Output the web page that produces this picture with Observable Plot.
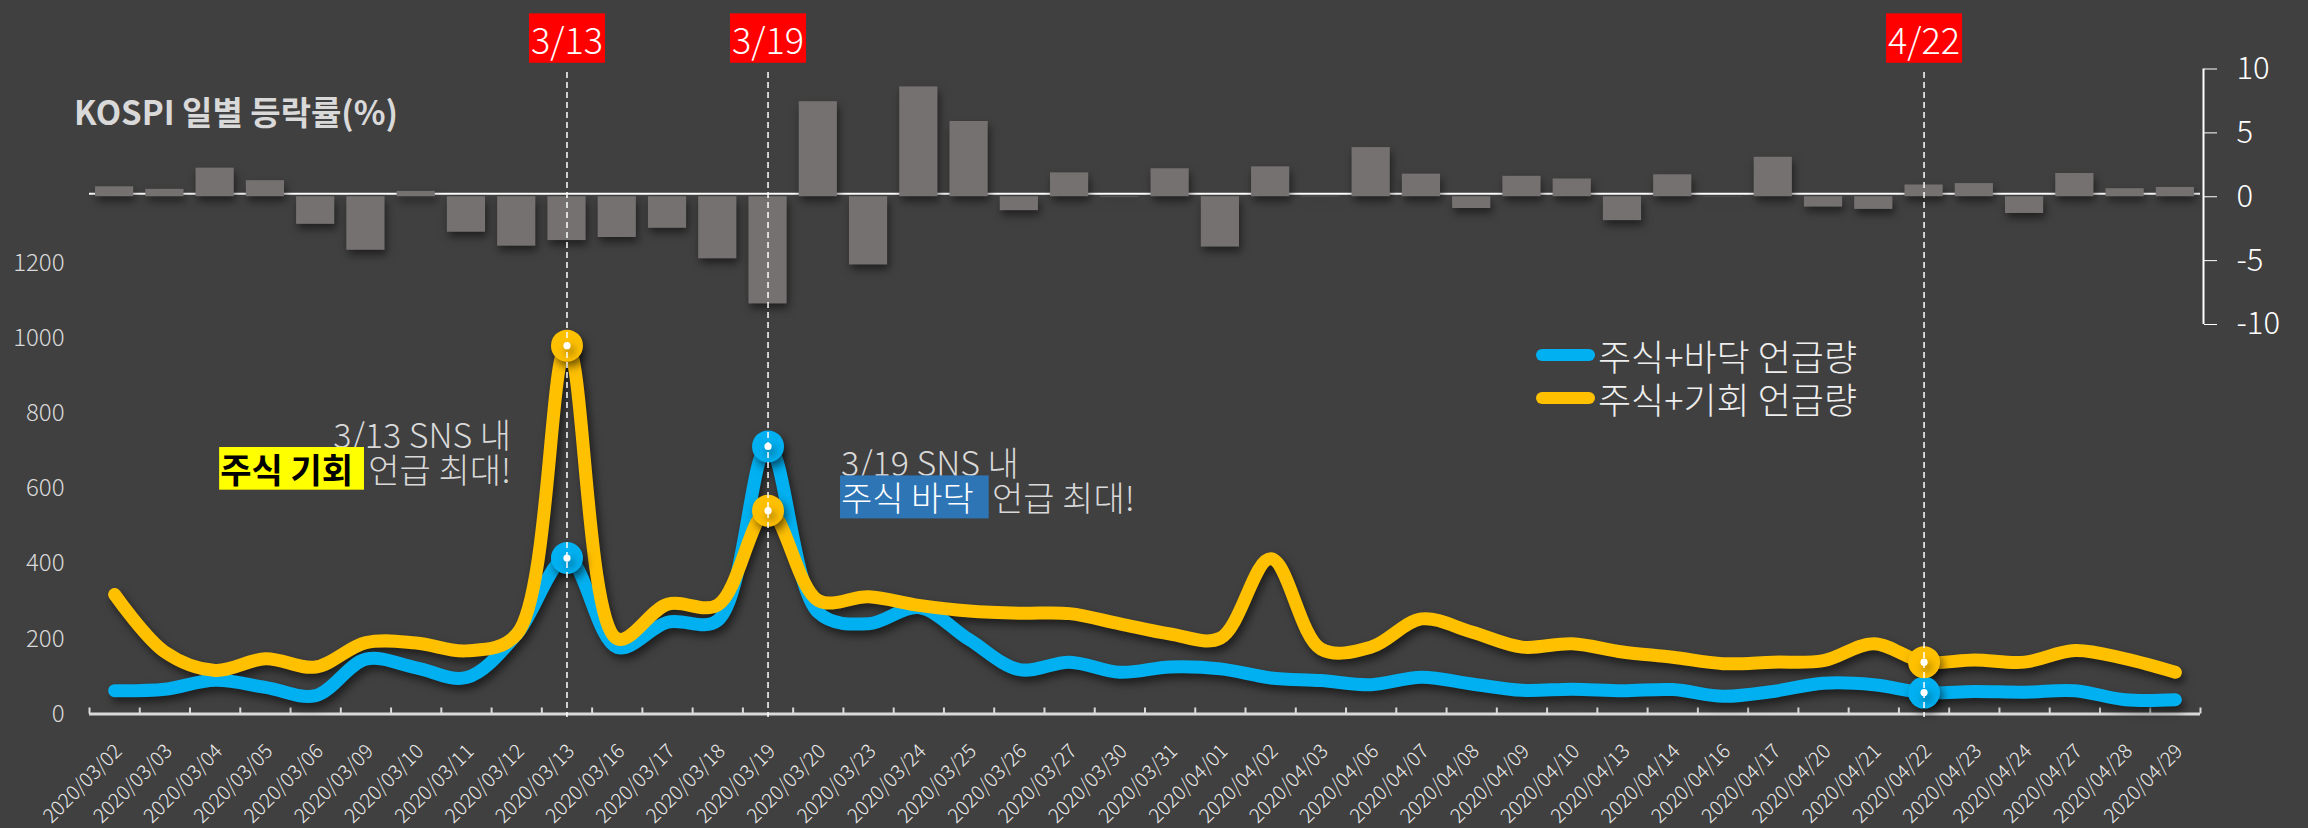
<!DOCTYPE html>
<html><head><meta charset="utf-8">
<script src="https://cdn.jsdelivr.net/npm/d3@7"></script>
<script src="https://cdn.jsdelivr.net/npm/@observablehq/plot@0.6"></script>
<style>
html,body{margin:0;padding:0;background:#404040;}
#chart{position:relative;width:2308px;height:828px;background:#404040;overflow:hidden;font-family:"Noto Sans CJK KR","Noto Sans",sans-serif;}
#chart svg{position:absolute;left:0;top:0;overflow:visible;}
.title{position:absolute;left:74px;top:95px;font-size:33px;font-weight:700;color:#d9d9d9;line-height:1;white-space:nowrap;}
.legend{position:absolute;left:1536px;top:333px;}
.legend .row{display:flex;align-items:center;height:43px;}
.legend .sw{width:59px;height:12px;border-radius:6px;}
.legend .lb{margin-left:3px;font-size:36px;font-weight:300;color:#eeeeee;line-height:1;white-space:nowrap;}
</style></head>
<body><div id="chart"></div>
<script>
const dates = ["2020/03/02","2020/03/03","2020/03/04","2020/03/05","2020/03/06","2020/03/09","2020/03/10","2020/03/11","2020/03/12","2020/03/13","2020/03/16","2020/03/17","2020/03/18","2020/03/19","2020/03/20","2020/03/23","2020/03/24","2020/03/25","2020/03/26","2020/03/27","2020/03/30","2020/03/31","2020/04/01","2020/04/02","2020/04/03","2020/04/06","2020/04/07","2020/04/08","2020/04/09","2020/04/10","2020/04/13","2020/04/14","2020/04/16","2020/04/17","2020/04/20","2020/04/21","2020/04/22","2020/04/23","2020/04/24","2020/04/27","2020/04/28","2020/04/29"];
const kospiChange = [0.78,0.58,2.24,1.26,-2.16,-4.19,0.42,-2.78,-3.87,-3.43,-3.19,-2.47,-4.86,-8.39,7.44,-5.34,8.60,5.89,-1.09,1.87,-0.04,2.19,-3.94,2.34,0.03,3.85,1.77,-0.92,1.60,1.39,-1.87,1.72,-0.02,3.09,-0.81,-0.99,0.92,1.03,-1.31,1.82,0.63,0.73];
const floorMentions = [62,66,90,71,49,146,123,97,212,415,177,244,249,712,270,240,283,198,118,138,111,125,120,96,89,78,98,80,63,66,62,65,47,60,82,78,57,60,58,62,38,38];
const opportunityMentions = [318,165,116,147,125,190,189,168,212,980,200,292,290,541,302,312,289,274,268,267,240,213,202,413,173,178,253,218,178,187,165,151,134,138,142,187,138,144,138,169,147,111];
const seriesNames = ["주식+바닥 언급량","주식+기회 언급량"];
const seriesColors = ["#00B0F0","#FFC000"];
const markedDates = ["2020/03/13","2020/03/19","2020/04/22"];
const markedLabels = ["3/13","3/19","4/22"];
const leftTicks = [0,200,400,600,800,1000,1200];
const rightTicks = [-10,-5,0,5,10];
const chartTitle = "KOSPI 일별 등락률(%)";

const W = 2308, H = 828, ML = 89, MR = 108;
const step = (W - ML - MR) / dates.length;
const FONT = '"Noto Sans CJK KR","Noto Sans",sans-serif';
const xBand = {domain: dates, paddingInner: 0.24, paddingOuter: 0.12, round: false, label: null};

const lineData = [];
dates.forEach((d, i) => lineData.push({date: d, series: seriesNames[0], value: floorMentions[i]}));
dates.forEach((d, i) => lineData.push({date: d, series: seriesNames[1], value: opportunityMentions[i]}));
const markerData = lineData.filter(r => markedDates.includes(r.date));
const barData = dates.map((d, i) => ({date: d, change: kospiChange[i]}));
const shadow = "drop-shadow(3px 5px 4px rgba(0,0,0,0.55))";
const fmt = d => String(d).replace("\u2212", "-");

const chart = document.getElementById("chart");

// --- KOSPI bars (secondary axis, top)
const bars = Plot.plot({
  width: W, height: H,
  marginLeft: ML, marginRight: MR, marginTop: 68.5, marginBottom: H - 324,
  style: {background: "transparent", fontFamily: FONT},
  x: {...xBand, axis: null},
  y: {domain: [-10, 10], label: null},
  marks: [
    Plot.ruleY([0], {stroke: "#ffffff", strokeWidth: 2, dy: -3}),
    Plot.barY(barData, {x: "date", y: "change", fill: "#767171"}),
    Plot.ruleX([dates[dates.length - 1]], {y1: -10, y2: 10, dx: step / 2 + 3, stroke: "#ffffff", strokeWidth: 2}),
    Plot.axisY({anchor: "right", ticks: rightTicks, tickFormat: fmt, label: null, tickSize: 13, tickPadding: 20, fontSize: 31, color: "#ffffff", fontWeight: 300, dx: 3})
  ]
});
d3.select(bars).selectAll('g[aria-label="bar"]').style("filter", "drop-shadow(2px 5px 4px rgba(0,0,0,0.5))");
chart.appendChild(bars);

// --- mention lines (primary axis)
const lines = Plot.plot({
  width: W, height: H,
  marginLeft: ML, marginRight: MR, marginTop: 262.5, marginBottom: H - 713.5,
  style: {background: "transparent", fontFamily: FONT},
  x: {...xBand},
  y: {domain: [0, 1200], label: null},
  color: {domain: seriesNames, range: seriesColors},
  marks: [
    Plot.ruleY([0], {stroke: "#d9d9d9", strokeWidth: 3}),
    Plot.ruleX(dates, {x: d => d, y1: 0, y2: 16, dx: -step / 2, stroke: "#d9d9d9", strokeWidth: 2}),
    Plot.ruleX([dates[dates.length - 1]], {x: d => d, y1: 0, y2: 16, dx: step / 2, stroke: "#d9d9d9", strokeWidth: 2}),
    Plot.axisX({tickRotate: -45, tickSize: 0, tickPadding: 34, label: null, fontSize: 20, color: "#e8e8e8", fontWeight: 300, dx: 4}),
    Plot.axisY({ticks: leftTicks, tickFormat: fmt, label: null, tickSize: 0, tickPadding: 25, fontSize: 24, color: "#d9d9d9", fontWeight: 300}),
    Plot.line(lineData, {x: "date", y: "value", z: "series", stroke: "series", strokeWidth: 13, curve: "catmull-rom", strokeLinecap: "round", strokeLinejoin: "round"}),
    Plot.dot(markerData, {x: "date", y: "value", fill: "series", r: 16}),
    Plot.dot(markerData, {x: "date", y: "value", fill: "#ffffff", r: 3.6}),
    Plot.text(["3/13 SNS 내"], {x: () => markedDates[0], y: () => 738, dx: -56, textAnchor: "end", fontSize: 34, fontWeight: 300, fill: "#d9d9d9"}),
    Plot.text(["언급 최대!"], {x: () => markedDates[0], y: () => 644, dx: -56, textAnchor: "end", fontSize: 34, fontWeight: 300, fill: "#d9d9d9"}),
    Plot.text(["주식 기회"], {x: () => markedDates[0], y: () => 644, dx: -214, textAnchor: "end", fontSize: 34, fontWeight: 700, fill: "#000000"}),
    Plot.text(["3/19 SNS 내"], {x: () => markedDates[1], y: () => 661, dx: 73, textAnchor: "start", fontSize: 34, fontWeight: 300, fill: "#d9d9d9"}),
    Plot.text(["주식 바닥"], {x: () => markedDates[1], y: () => 568, dx: 73, textAnchor: "start", fontSize: 34, fontWeight: 300, fill: "#ffffff"}),
    Plot.text(["언급 최대!"], {x: () => markedDates[1], y: () => 568, dx: 224, textAnchor: "start", fontSize: 34, fontWeight: 300, fill: "#d9d9d9"})
  ]
});
d3.select(lines).selectAll('g[aria-label="line"], g[aria-label="dot"]').style("filter", shadow);
chart.appendChild(lines);

// --- guides & date labels (top layer)
const guides = Plot.plot({
  width: W, height: H,
  marginLeft: ML, marginRight: MR, marginTop: 72, marginBottom: H - 717,
  style: {background: "transparent", fontFamily: FONT},
  x: {...xBand, axis: null},
  marks: [
    Plot.ruleX(markedDates, {stroke: "#ffffff", strokeWidth: 1.5, strokeDasharray: "6,4"}),
    Plot.text(markedDates, {x: d => d, text: (d, i) => markedLabels[i], frameAnchor: "top", dy: -44, fontSize: 36, fontWeight: 300, fill: "#ffffff"})
  ]
});
chart.appendChild(guides);

function addRect(el, x, y, w, h, fill) {
  const r = document.createElementNS("http://www.w3.org/2000/svg", "rect");
  r.setAttribute("x", x); r.setAttribute("y", y);
  r.setAttribute("width", w); r.setAttribute("height", h);
  r.setAttribute("fill", fill);
  const t = el.getAttribute("transform");
  if (t) r.setAttribute("transform", t);
  el.parentNode.insertBefore(r, el);
}
function backRect(svg, content, fill, padL, padR, h) {
  d3.select(svg).selectAll("text").filter(function () { return this.textContent === content; }).each(function () {
    const b = this.getBBox();
    addRect(this, b.x - padL, b.y + b.height / 2 - h / 2, b.width + padL + padR, h, fill);
  });
}
markedLabels.forEach(l => {
  d3.select(guides).selectAll("text").filter(function () { return this.textContent === l; }).each(function () {
    const b = this.getBBox();
    addRect(this, b.x + b.width / 2 - 38, b.y + b.height / 2 - 24.7, 76, 49.4, "#FF0000");
  });
});
backRect(lines, "주식 기회", "#FFFF00", 1, 11, 42.7);
backRect(lines, "주식 바닥", "#2E75B6", 1, 15, 43);

// title & legend
const title = document.createElement("div");
title.className = "title"; title.textContent = chartTitle;
chart.appendChild(title);
const legend = document.createElement("div");
legend.className = "legend";
seriesNames.forEach((n, i) => {
  const row = document.createElement("div"); row.className = "row";
  const sw = document.createElement("div"); sw.className = "sw"; sw.style.background = seriesColors[i];
  const lb = document.createElement("div"); lb.className = "lb"; lb.textContent = n;
  row.appendChild(sw); row.appendChild(lb); legend.appendChild(row);
});
chart.appendChild(legend);
</script>
</body></html>
